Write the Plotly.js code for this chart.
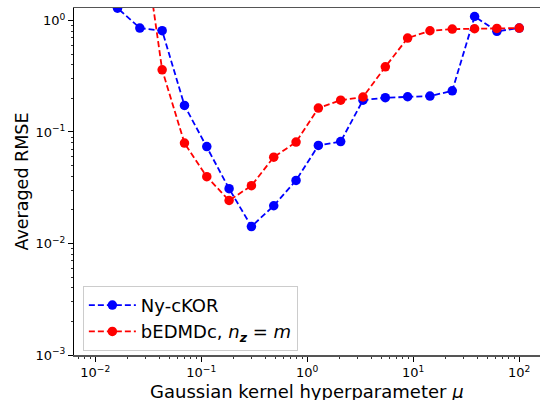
<!DOCTYPE html>
<html>
<head>
<meta charset="utf-8">
<script src="https://cdn.plot.ly/plotly-3.0.1.min.js"></script>
<style>
  html, body { margin: 0; padding: 0; background: #fff; }
  #chart { width: 540px; height: 400px; }
</style>
</head>
<body>
<div id="chart"></div>
<script>
// Gaussian kernel hyperparameter grid (20 log-spaced values from 1e-2 to 1e2)
const mu = [0.01, 0.016238, 0.026367, 0.042813, 0.069519, 0.112884, 0.183298,
            0.297635, 0.483293, 0.784760, 1.274275, 2.069138, 3.359818, 5.455595,
            8.858668, 14.384499, 23.357215, 37.926902, 61.584821, 100];

// Averaged RMSE per method
const rmseNyCKOR = [5.0, 1.29, 0.855, 0.81, 0.173, 0.074, 0.031, 0.0142, 0.0218, 0.0368,
                    0.0757, 0.082, 0.193, 0.203, 0.207, 0.21, 0.234, 1.086, 0.80, 0.855];
const rmseBEDMDc = [15.0, 12.0, 9.2, 0.361, 0.0795, 0.0397, 0.0243, 0.033, 0.0595, 0.0812,
                    0.164, 0.193, 0.206, 0.384, 0.695, 0.809, 0.837, 0.843, 0.848, 0.855];

const seriesNames = ['Ny-cKOR', 'bEDMDc, <i>n</i><sub><b><i>z</i></b></sub> = <i>m</i>'];
const xTitle = 'Gaussian kernel hyperparameter <i>\u03bc</i>';
const yTitle = 'Averaged RMSE';

// Decade tick labels
const xTickVals = [0.01, 0.1, 1, 10, 100];
const xTickText = ['10<sup>\u22122</sup>', '10<sup>\u22121</sup>', '10<sup>0</sup>', '10<sup>1</sup>', '10<sup>2</sup>'];
const yTickVals = [0.001, 0.01, 0.1, 1];
const yTickText = ['10<sup>\u22123</sup>', '10<sup>\u22122</sup>', '10<sup>\u22121</sup>', '10<sup>0</sup>'];

// minor ticks at 2..9 within each decade
function minorTicks(lo, hi) {
  const out = [];
  for (let e = lo; e <= hi; e++) {
    for (let m = 2; m <= 9; m++) out.push(m * Math.pow(10, e));
  }
  return out;
}

const lineStyle = (color) => ({ color: color, width: 1.8, dash: '6px,3px' });

const traces = [
  {
    x: mu, y: rmseNyCKOR, name: seriesNames[0],
    type: 'scatter', mode: 'lines+markers',
    line: lineStyle('#0000ff'),
    marker: { color: '#0000ff', size: 9.5, symbol: 'circle' }
  },
  {
    x: mu, y: rmseBEDMDc, name: seriesNames[1],
    type: 'scatter', mode: 'lines+markers',
    line: lineStyle('#ff0000'),
    marker: { color: '#ff0000', size: 9.5, symbol: 'circle' }
  }
];

const font = 'DejaVu Sans, sans-serif';

const layout = {
  width: 540, height: 400,
  margin: { l: 74, r: 0, t: 8, b: 45 },
  paper_bgcolor: '#ffffff', plot_bgcolor: '#ffffff',
  font: { family: font, color: '#000000', size: 13 },
  showlegend: true,
  legend: {
    x: 0.019, y: 0.012, xanchor: 'left', yanchor: 'bottom',
    bgcolor: 'rgba(255,255,255,0.8)', bordercolor: '#cccccc', borderwidth: 1,
    font: { family: font, size: 18, color: '#000000' },
    itemwidth: 47,
    tracegroupgap: 0
  },
  // x-axis title sits low in the bottom margin, partly below the page edge
  annotations: [{
    text: xTitle, xref: 'paper', yref: 'paper',
    x: 0.5, y: -0.1066, xanchor: 'center', yanchor: 'middle',
    showarrow: false, font: { family: font, size: 18, color: '#000' }
  }],
  xaxis: {
    type: 'log', range: [-2.2, 2.196],
    tickvals: xTickVals, ticktext: xTickText,
    ticks: 'outside', ticklen: 5, tickwidth: 1, tickcolor: '#000',
    minor: { tickvals: minorTicks(-3, 2), ticks: 'outside', ticklen: 2.5, tickwidth: 0.8, tickcolor: '#000', showgrid: false },
    showgrid: false, zeroline: false,
    showline: true, linecolor: '#555555', linewidth: 1.5, mirror: true,
    tickfont: { family: font, size: 13 }
  },
  yaxis: {
    type: 'log', range: [-3, 0.112],
    tickvals: yTickVals, ticktext: yTickText,
    ticks: 'outside', ticklen: 5, tickwidth: 1, tickcolor: '#000',
    minor: { tickvals: minorTicks(-3, 0), ticks: 'outside', ticklen: 2.5, tickwidth: 0.8, tickcolor: '#000', showgrid: false },
    showgrid: false, zeroline: false,
    showline: true, linecolor: '#000000', linewidth: 1, mirror: false,
    tickfont: { family: font, size: 13 },
    title: { text: yTitle, font: { family: font, size: 17.5 }, standoff: 2 }
  }
};

Plotly.newPlot('chart', traces, layout, { displayModeBar: false, staticPlot: true });
</script>
</body>
</html>
